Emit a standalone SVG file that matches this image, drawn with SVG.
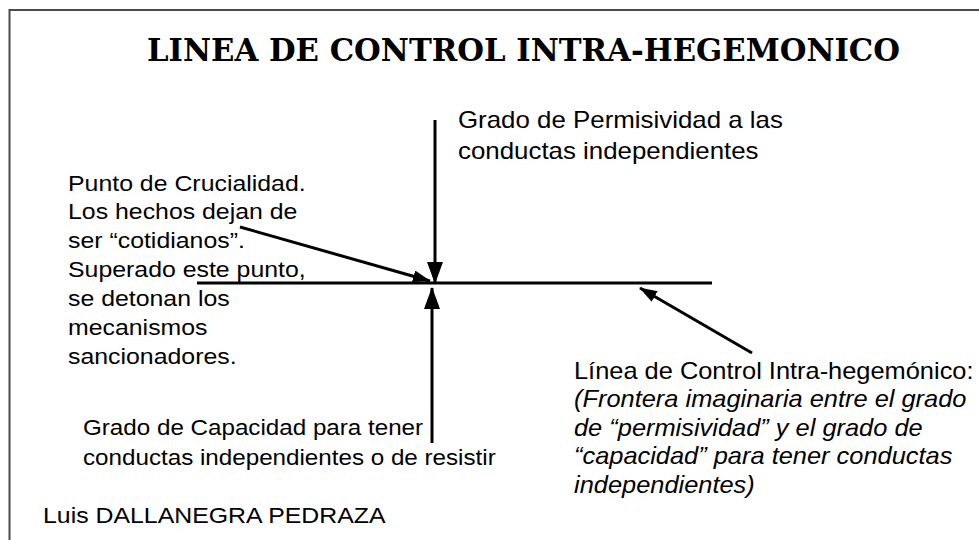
<svg xmlns="http://www.w3.org/2000/svg" width="979" height="540" viewBox="0 0 979 540">
<style>
.t{font-family:"Liberation Sans",Arial,sans-serif;font-size:22.4px;fill:#000}
.i{font-style:italic}
.title{font-family:"DejaVu Serif","Liberation Serif",serif;font-weight:bold;font-size:32px;fill:#000}
.ln{stroke:#000;stroke-width:3;fill:none}
</style>
<defs>
<marker id="ah" markerUnits="userSpaceOnUse" markerWidth="22" markerHeight="16" refX="21" refY="8" orient="auto">
<path d="M0,0 L22,8 L0,16 Z" fill="#000"/>
</marker>
<marker id="ahs" markerUnits="userSpaceOnUse" markerWidth="18" markerHeight="12" refX="17" refY="6" orient="auto">
<path d="M0,0 L18,6 L0,12 Z" fill="#000"/>
</marker>
</defs>
<rect x="9.5" y="10" width="1000" height="600" fill="#fff" stroke="#4a4a4a" stroke-width="2"/>
<g id="title">
<text class="title" x="147" y="61" textLength="753" lengthAdjust="spacingAndGlyphs">LINEA DE CONTROL INTRA-HEGEMONICO</text>
</g>
<g id="connectors">
<line id="control-line" class="ln" x1="197" y1="283" x2="712" y2="283"/>
<line id="arrow-down" class="ln" x1="435" y1="120" x2="435" y2="283" marker-end="url(#ah)"/>
<line id="arrow-up" class="ln" x1="432" y1="443" x2="432" y2="288" marker-end="url(#ah)"/>
<line id="arrow-diag" class="ln" x1="240" y1="227" x2="430" y2="281" marker-end="url(#ahs)"/>
<line id="arrow-right" class="ln" x1="752" y1="353" x2="640" y2="288" marker-end="url(#ahs)"/>
</g>
<g id="permisividad">
<text class="t" style="font-size:23px" transform="translate(458,128) scale(1.125,1)"><tspan x="0" y="0">Grado de Permisividad a las</tspan><tspan x="0" y="31">conductas independientes</tspan></text>
</g>
<g id="crucialidad">
<text class="t" transform="translate(68,190.5) scale(1.11,1)"><tspan x="0" y="0">Punto de Crucialidad.</tspan><tspan x="0" y="29">Los hechos dejan de</tspan><tspan x="0" y="58">ser “cotidianos”.</tspan><tspan x="0" y="87">Superado este punto,</tspan><tspan x="0" y="116">se detonan los</tspan><tspan x="0" y="145">mecanismos</tspan><tspan x="0" y="174">sancionadores.</tspan></text>
</g>
<g id="capacidad">
<text class="t" style="font-size:22px" transform="translate(83,435) scale(1.1,1)"><tspan x="0" y="0">Grado de Capacidad para tener</tspan><tspan x="0" y="30">conductas independientes o de resistir</tspan></text>
</g>
<g id="linea-control">
<text class="t" style="font-size:23px" transform="translate(574,379) scale(1.105,1)"><tspan x="0" y="0">Línea de Control Intra-hegemónico:</tspan><tspan class="i" x="0" y="28.5">(Frontera imaginaria entre el grado</tspan><tspan class="i" x="0" y="57">de “permisividad” y el grado de</tspan><tspan class="i" x="0" y="85.5">“capacidad” para tener conductas</tspan><tspan class="i" x="0" y="114">independientes)</tspan></text>
</g>
<g id="author">
<text class="t" transform="translate(43,523) scale(1.11,1)">Luis DALLANEGRA PEDRAZA</text>
</g>
</svg>
